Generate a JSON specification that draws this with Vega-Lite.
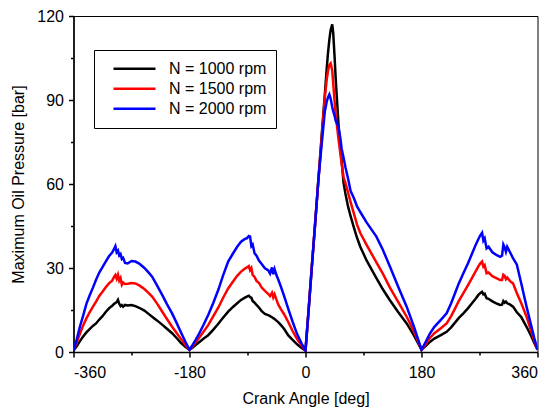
{
  "$schema": "https://vega.github.io/schema/vega-lite/v6.json",
  "width": 464,
  "height": 336,
  "autosize": "none",
  "padding": {"left": 73.5, "top": 16, "right": 12.5, "bottom": 57},
  "background": "white",
  "config": {
    "view": {"stroke": "black", "strokeWidth": 1},
    "font": "Liberation Sans",
    "axis": {
      "grid": false,
      "domainColor": "black",
      "domainWidth": 1.5,
      "tickColor": "black",
      "tickWidth": 1.5,
      "labelColor": "black",
      "labelFont": "Liberation Sans",
      "labelFontSize": 16,
      "titleFont": "Liberation Sans",
      "titleFontSize": 16,
      "titleFontWeight": "normal",
      "titleColor": "black"
    }
  },
  "data": {
    "values": [
      {"a":-360,"s":"1000","p":0.5},{"a":-360,"s":"1500","p":0.5},{"a":-360,"s":"2000","p":0.5},
      {"a":-355,"s":"1000","p":2},{"a":-355,"s":"1500","p":3.5},{"a":-355,"s":"2000","p":4.5},
      {"a":-350,"s":"1000","p":3.9},{"a":-350,"s":"1500","p":6.5},{"a":-350,"s":"2000","p":9.1},
      {"a":-345,"s":"1000","p":5.5},{"a":-345,"s":"1500","p":9.5},{"a":-345,"s":"2000","p":13},
      {"a":-340,"s":"1000","p":7},{"a":-340,"s":"1500","p":12},{"a":-340,"s":"2000","p":17.2},
      {"a":-335,"s":"1000","p":8.2},{"a":-335,"s":"1500","p":14.2},{"a":-335,"s":"2000","p":20.2},
      {"a":-330,"s":"1000","p":9.3},{"a":-330,"s":"1500","p":16.1},{"a":-330,"s":"2000","p":22.9},
      {"a":-325,"s":"1000","p":10.2},{"a":-325,"s":"1500","p":18},{"a":-325,"s":"2000","p":25.8},
      {"a":-320,"s":"1000","p":11.6},{"a":-320,"s":"1500","p":20},{"a":-320,"s":"2000","p":28.4},
      {"a":-315,"s":"1000","p":12.8},{"a":-315,"s":"1500","p":21.5},{"a":-315,"s":"2000","p":30.3},
      {"a":-310,"s":"1000","p":14.3},{"a":-310,"s":"1500","p":23.1},{"a":-310,"s":"2000","p":32.3},
      {"a":-305,"s":"1000","p":15.6},{"a":-305,"s":"1500","p":24.5},{"a":-305,"s":"2000","p":34.2},
      {"a":-300,"s":"1000","p":16.5},{"a":-300,"s":"1500","p":25.5},{"a":-300,"s":"2000","p":35.5},
      {"a":-297,"s":"1000","p":17.2},{"a":-297,"s":"1500","p":26.8},{"a":-297,"s":"2000","p":36.8},
      {"a":-295,"s":"1000","p":17.5},{"a":-295,"s":"1500","p":27.5},{"a":-295,"s":"2000","p":37.8},
      {"a":-293,"s":"1000","p":17.8},{"a":-293,"s":"1500","p":26.2},{"a":-293,"s":"2000","p":35.6},
      {"a":-291,"s":"1000","p":18.6},{"a":-291,"s":"1500","p":27.6},{"a":-291,"s":"2000","p":36.2},
      {"a":-289,"s":"1000","p":17.2},{"a":-289,"s":"1500","p":25.5},{"a":-289,"s":"2000","p":34.5},
      {"a":-287,"s":"1000","p":16.4},{"a":-287,"s":"1500","p":26.4},{"a":-287,"s":"2000","p":35},
      {"a":-285,"s":"1000","p":16.8},{"a":-285,"s":"1500","p":24},{"a":-285,"s":"2000","p":33.2},
      {"a":-283,"s":"1000","p":16.2},{"a":-283,"s":"1500","p":24.8},{"a":-283,"s":"2000","p":33.6},
      {"a":-280,"s":"1000","p":16.8},{"a":-280,"s":"1500","p":24.3},{"a":-280,"s":"2000","p":31.8},
      {"a":-276,"s":"1000","p":16.6},{"a":-276,"s":"1500","p":24.4},{"a":-276,"s":"2000","p":31.6},
      {"a":-270,"s":"1000","p":16.8},{"a":-270,"s":"1500","p":24.6},{"a":-270,"s":"2000","p":32.5},
      {"a":-264,"s":"1000","p":16.4},{"a":-264,"s":"1500","p":24.5},{"a":-264,"s":"2000","p":32.3},
      {"a":-258,"s":"1000","p":15.8},{"a":-258,"s":"1500","p":23.8},{"a":-258,"s":"2000","p":31.6},
      {"a":-250,"s":"1000","p":14.8},{"a":-250,"s":"1500","p":22.5},{"a":-250,"s":"2000","p":30},
      {"a":-244,"s":"1000","p":13.7},{"a":-244,"s":"1500","p":21.2},{"a":-244,"s":"2000","p":28.5},
      {"a":-238,"s":"1000","p":12.6},{"a":-238,"s":"1500","p":19.8},{"a":-238,"s":"2000","p":26.9},
      {"a":-230,"s":"1000","p":11.2},{"a":-230,"s":"1500","p":17.2},{"a":-230,"s":"2000","p":23.6},
      {"a":-222,"s":"1000","p":9.7},{"a":-222,"s":"1500","p":14.3},{"a":-222,"s":"2000","p":20.2},
      {"a":-215,"s":"1000","p":8.3},{"a":-215,"s":"1500","p":11.8},{"a":-215,"s":"2000","p":17.1},
      {"a":-207,"s":"1000","p":6.7},{"a":-207,"s":"1500","p":9},{"a":-207,"s":"2000","p":13.8},
      {"a":-200,"s":"1000","p":5},{"a":-200,"s":"1500","p":6.8},{"a":-200,"s":"2000","p":10.4},
      {"a":-193,"s":"1000","p":3.2},{"a":-193,"s":"1500","p":4.6},{"a":-193,"s":"2000","p":6.9},
      {"a":-186,"s":"1000","p":1.8},{"a":-186,"s":"1500","p":2.4},{"a":-186,"s":"2000","p":3.5},
      {"a":-180,"s":"1000","p":0.8},{"a":-180,"s":"1500","p":0.8},{"a":-180,"s":"2000","p":0.8},
      {"a":-175,"s":"1000","p":1.6},{"a":-175,"s":"1500","p":2.1},{"a":-175,"s":"2000","p":2.6},
      {"a":-170,"s":"1000","p":2.6},{"a":-170,"s":"1500","p":3.6},{"a":-170,"s":"2000","p":4.5},
      {"a":-165,"s":"1000","p":3.5},{"a":-165,"s":"1500","p":5.1},{"a":-165,"s":"2000","p":6.6},
      {"a":-158,"s":"1000","p":4.8},{"a":-158,"s":"1500","p":7.3},{"a":-158,"s":"2000","p":9.8},
      {"a":-151,"s":"1000","p":6},{"a":-151,"s":"1500","p":9.6},{"a":-151,"s":"2000","p":13.2},
      {"a":-143,"s":"1000","p":8},{"a":-143,"s":"1500","p":12.8},{"a":-143,"s":"2000","p":17.6},
      {"a":-135,"s":"1000","p":10.2},{"a":-135,"s":"1500","p":16},{"a":-135,"s":"2000","p":22.4},
      {"a":-128,"s":"1000","p":12.2},{"a":-128,"s":"1500","p":19.3},{"a":-128,"s":"2000","p":27.3},
      {"a":-120,"s":"1000","p":14.4},{"a":-120,"s":"1500","p":22.7},{"a":-120,"s":"2000","p":32.3},
      {"a":-113,"s":"1000","p":16},{"a":-113,"s":"1500","p":25},{"a":-113,"s":"2000","p":35},
      {"a":-106,"s":"1000","p":17.4},{"a":-106,"s":"1500","p":27.2},{"a":-106,"s":"2000","p":37.6},
      {"a":-100,"s":"1000","p":18.6},{"a":-100,"s":"1500","p":28.7},{"a":-100,"s":"2000","p":39.4},
      {"a":-94,"s":"1000","p":19.4},{"a":-94,"s":"1500","p":29.8},{"a":-94,"s":"2000","p":40.4},
      {"a":-91,"s":"1000","p":19.8},{"a":-91,"s":"1500","p":30.2},{"a":-91,"s":"2000","p":40.6},
      {"a":-88,"s":"1000","p":20.1},{"a":-88,"s":"1500","p":30.7},{"a":-88,"s":"2000","p":41.4},
      {"a":-86,"s":"1000","p":19.6},{"a":-86,"s":"1500","p":29.2},{"a":-86,"s":"2000","p":41.2},
      {"a":-84,"s":"1000","p":19.4},{"a":-84,"s":"1500","p":30},{"a":-84,"s":"2000","p":37.8},
      {"a":-82,"s":"1000","p":18.2},{"a":-82,"s":"1500","p":27.5},{"a":-82,"s":"2000","p":38.4},
      {"a":-79,"s":"1000","p":17.6},{"a":-79,"s":"1500","p":26.8},{"a":-79,"s":"2000","p":35.2},
      {"a":-76,"s":"1000","p":16.8},{"a":-76,"s":"1500","p":25.4},{"a":-76,"s":"2000","p":34.4},
      {"a":-72,"s":"1000","p":15.8},{"a":-72,"s":"1500","p":24.6},{"a":-72,"s":"2000","p":32.6},
      {"a":-68,"s":"1000","p":14.6},{"a":-68,"s":"1500","p":23},{"a":-68,"s":"2000","p":31.4},
      {"a":-63,"s":"1000","p":13.6},{"a":-63,"s":"1500","p":21.8},{"a":-63,"s":"2000","p":29.9},
      {"a":-58,"s":"1000","p":13.2},{"a":-58,"s":"1500","p":20.8},{"a":-58,"s":"2000","p":29.2},
      {"a":-55,"s":"1000","p":12.8},{"a":-55,"s":"1500","p":20},{"a":-55,"s":"2000","p":28},
      {"a":-52,"s":"1000","p":12.4},{"a":-52,"s":"1500","p":21.2},{"a":-52,"s":"2000","p":30.2},
      {"a":-50,"s":"1000","p":12.1},{"a":-50,"s":"1500","p":19.5},{"a":-50,"s":"2000","p":27.8},
      {"a":-48,"s":"1000","p":11.8},{"a":-48,"s":"1500","p":20.6},{"a":-48,"s":"2000","p":29.6},
      {"a":-45,"s":"1000","p":11.2},{"a":-45,"s":"1500","p":18.6},{"a":-45,"s":"2000","p":27.4},
      {"a":-42,"s":"1000","p":10.6},{"a":-42,"s":"1500","p":16.8},{"a":-42,"s":"2000","p":25.7},
      {"a":-38,"s":"1000","p":9.6},{"a":-38,"s":"1500","p":15.2},{"a":-38,"s":"2000","p":23.2},
      {"a":-33,"s":"1000","p":8.2},{"a":-33,"s":"1500","p":13.4},{"a":-33,"s":"2000","p":19.9},
      {"a":-27,"s":"1000","p":6},{"a":-27,"s":"1500","p":10.8},{"a":-27,"s":"2000","p":15.6},
      {"a":-20,"s":"1000","p":4.3},{"a":-20,"s":"1500","p":7.5},{"a":-20,"s":"2000","p":10.8},
      {"a":-13,"s":"1000","p":2.7},{"a":-13,"s":"1500","p":4.6},{"a":-13,"s":"2000","p":6.4},
      {"a":-6,"s":"1000","p":1.4},{"a":-6,"s":"1500","p":2.2},{"a":-6,"s":"2000","p":3},
      {"a":0,"s":"1000","p":0.5},{"a":0,"s":"1500","p":0.5},{"a":0,"s":"2000","p":0.5},
      {"a":5,"s":"1000","p":15.5},{"a":5,"s":"1500","p":15.5},{"a":5,"s":"2000","p":15.5},
      {"a":10,"s":"1000","p":31},{"a":10,"s":"1500","p":31},{"a":10,"s":"2000","p":31},
      {"a":15,"s":"1000","p":46},{"a":15,"s":"1500","p":46},{"a":15,"s":"2000","p":46},
      {"a":20,"s":"1000","p":61.5},{"a":20,"s":"1500","p":61.5},{"a":20,"s":"2000","p":61.5},
      {"a":25,"s":"1000","p":77},{"a":25,"s":"1500","p":76},{"a":25,"s":"2000","p":74},
      {"a":30,"s":"1000","p":92},{"a":30,"s":"1500","p":91},{"a":30,"s":"2000","p":86},
      {"a":33,"s":"1000","p":101.5},{"a":33,"s":"1500","p":97.5},{"a":33,"s":"2000","p":89.5},
      {"a":35,"s":"1000","p":107},{"a":35,"s":"1500","p":100.5},{"a":35,"s":"2000","p":91},
      {"a":37,"s":"1000","p":111.5},{"a":37,"s":"1500","p":102.5},{"a":37,"s":"2000","p":92},
      {"a":39,"s":"1000","p":115},{"a":39,"s":"1500","p":103.1},{"a":39,"s":"2000","p":90.5},
      {"a":41.5,"s":"1000","p":117},{"a":41.5,"s":"1500","p":100.5},{"a":41.5,"s":"2000","p":87.5},
      {"a":43,"s":"1000","p":114},{"a":43,"s":"1500","p":96},{"a":43,"s":"2000","p":86},
      {"a":45,"s":"1000","p":106},{"a":45,"s":"1500","p":90},{"a":45,"s":"2000","p":84.5},
      {"a":47,"s":"1000","p":97},{"a":47,"s":"1500","p":84.5},{"a":47,"s":"2000","p":82.5},
      {"a":49,"s":"1000","p":89.5},{"a":49,"s":"1500","p":80.5},{"a":49,"s":"2000","p":81.5},
      {"a":51,"s":"1000","p":82},{"a":51,"s":"1500","p":76.5},{"a":51,"s":"2000","p":80.5},
      {"a":54,"s":"1000","p":73},{"a":54,"s":"1500","p":71},{"a":54,"s":"2000","p":76.5},
      {"a":56,"s":"1000","p":68.5},{"a":56,"s":"1500","p":67.5},{"a":56,"s":"2000","p":72.7},
      {"a":59,"s":"1000","p":60.5},{"a":59,"s":"1500","p":62.5},{"a":59,"s":"2000","p":69.5},
      {"a":62,"s":"1000","p":56.5},{"a":62,"s":"1500","p":60.3},{"a":62,"s":"2000","p":66},
      {"a":66,"s":"1000","p":52},{"a":66,"s":"1500","p":57},{"a":66,"s":"2000","p":62},
      {"a":70,"s":"1000","p":48.5},{"a":70,"s":"1500","p":53.5},{"a":70,"s":"2000","p":57.5},
      {"a":75,"s":"1000","p":44.5},{"a":75,"s":"1500","p":49.5},{"a":75,"s":"2000","p":55},
      {"a":80,"s":"1000","p":40.8},{"a":80,"s":"1500","p":45.5},{"a":80,"s":"2000","p":52},
      {"a":85,"s":"1000","p":37.6},{"a":85,"s":"1500","p":42.5},{"a":85,"s":"2000","p":50},
      {"a":95,"s":"1000","p":32.6},{"a":95,"s":"1500","p":38.2},{"a":95,"s":"2000","p":46.2},
      {"a":110,"s":"1000","p":26.4},{"a":110,"s":"1500","p":32},{"a":110,"s":"2000","p":41.2},
      {"a":120,"s":"1000","p":22.4},{"a":120,"s":"1500","p":28},{"a":120,"s":"2000","p":36.5},
      {"a":131,"s":"1000","p":18.5},{"a":131,"s":"1500","p":23},{"a":131,"s":"2000","p":30.5},
      {"a":144,"s":"1000","p":14.2},{"a":144,"s":"1500","p":17.8},{"a":144,"s":"2000","p":23.2},
      {"a":157,"s":"1000","p":10.2},{"a":157,"s":"1500","p":12.6},{"a":157,"s":"2000","p":16.2},
      {"a":168,"s":"1000","p":6},{"a":168,"s":"1500","p":7.5},{"a":168,"s":"2000","p":9.2},
      {"a":174,"s":"1000","p":3.4},{"a":174,"s":"1500","p":4.2},{"a":174,"s":"2000","p":5},
      {"a":180,"s":"1000","p":0.8},{"a":180,"s":"1500","p":0.8},{"a":180,"s":"2000","p":0.8},
      {"a":186,"s":"1000","p":2},{"a":186,"s":"1500","p":2.6},{"a":186,"s":"2000","p":3.4},
      {"a":193,"s":"1000","p":3.6},{"a":193,"s":"1500","p":5},{"a":193,"s":"2000","p":6.6},
      {"a":200,"s":"1000","p":4.8},{"a":200,"s":"1500","p":6.7},{"a":200,"s":"2000","p":9},
      {"a":210,"s":"1000","p":6},{"a":210,"s":"1500","p":8.5},{"a":210,"s":"2000","p":11.5},
      {"a":219,"s":"1000","p":7.2},{"a":219,"s":"1500","p":10.2},{"a":219,"s":"2000","p":13.8},
      {"a":226,"s":"1000","p":8.8},{"a":226,"s":"1500","p":12.8},{"a":226,"s":"2000","p":17.4},
      {"a":232,"s":"1000","p":10.5},{"a":232,"s":"1500","p":15.5},{"a":232,"s":"2000","p":21},
      {"a":238,"s":"1000","p":12.2},{"a":238,"s":"1500","p":18.3},{"a":238,"s":"2000","p":24.6},
      {"a":245,"s":"1000","p":13.8},{"a":245,"s":"1500","p":21},{"a":245,"s":"2000","p":28.1},
      {"a":252,"s":"1000","p":15.6},{"a":252,"s":"1500","p":23.8},{"a":252,"s":"2000","p":31.6},
      {"a":258,"s":"1000","p":17.3},{"a":258,"s":"1500","p":26.3},{"a":258,"s":"2000","p":34.9},
      {"a":264,"s":"1000","p":19},{"a":264,"s":"1500","p":28.8},{"a":264,"s":"2000","p":38.2},
      {"a":268,"s":"1000","p":20.3},{"a":268,"s":"1500","p":30.5},{"a":268,"s":"2000","p":40.2},
      {"a":271,"s":"1000","p":21},{"a":271,"s":"1500","p":31.6},{"a":271,"s":"2000","p":41.6},
      {"a":274,"s":"1000","p":21.5},{"a":274,"s":"1500","p":32.3},{"a":274,"s":"2000","p":42.6},
      {"a":276,"s":"1000","p":20.6},{"a":276,"s":"1500","p":30.5},{"a":276,"s":"2000","p":39.8},
      {"a":278,"s":"1000","p":20.8},{"a":278,"s":"1500","p":31},{"a":278,"s":"2000","p":40.6},
      {"a":281,"s":"1000","p":19.2},{"a":281,"s":"1500","p":28.1},{"a":281,"s":"2000","p":37},
      {"a":284,"s":"1000","p":19},{"a":284,"s":"1500","p":28.4},{"a":284,"s":"2000","p":37.6},
      {"a":290,"s":"1000","p":18.1},{"a":290,"s":"1500","p":27.1},{"a":290,"s":"2000","p":35.6},
      {"a":296,"s":"1000","p":17.4},{"a":296,"s":"1500","p":26.4},{"a":296,"s":"2000","p":34.7},
      {"a":302,"s":"1000","p":16.8},{"a":302,"s":"1500","p":25.7},{"a":302,"s":"2000","p":34},
      {"a":305,"s":"1000","p":16.9},{"a":305,"s":"1500","p":25.7},{"a":305,"s":"2000","p":34.4},
      {"a":307,"s":"1000","p":18.2},{"a":307,"s":"1500","p":27.6},{"a":307,"s":"2000","p":38.4},
      {"a":309,"s":"1000","p":17.6},{"a":309,"s":"1500","p":27.2},{"a":309,"s":"2000","p":37.4},
      {"a":311,"s":"1000","p":18},{"a":311,"s":"1500","p":26},{"a":311,"s":"2000","p":35.8},
      {"a":313,"s":"1000","p":17.4},{"a":313,"s":"1500","p":26.6},{"a":313,"s":"2000","p":37.6},
      {"a":317,"s":"1000","p":17},{"a":317,"s":"1500","p":25.4},{"a":317,"s":"2000","p":35.8},
      {"a":322,"s":"1000","p":16.2},{"a":322,"s":"1500","p":24.5},{"a":322,"s":"2000","p":33.5},
      {"a":328,"s":"1000","p":14.2},{"a":328,"s":"1500","p":21},{"a":328,"s":"2000","p":31.2},
      {"a":335,"s":"1000","p":12.4},{"a":335,"s":"1500","p":17.3},{"a":335,"s":"2000","p":24.3},
      {"a":343,"s":"1000","p":9},{"a":343,"s":"1500","p":12.6},{"a":343,"s":"2000","p":16.2},
      {"a":350,"s":"1000","p":5.8},{"a":350,"s":"1500","p":7.6},{"a":350,"s":"2000","p":9.6},
      {"a":355,"s":"1000","p":3.2},{"a":355,"s":"1500","p":4.1},{"a":355,"s":"2000","p":5},
      {"a":360,"s":"1000","p":0.8},{"a":360,"s":"1500","p":0.8},{"a":360,"s":"2000","p":0.8}
    ]
  },
  "mark": {"type": "line", "strokeWidth": 2.5, "clip": true},
  "encoding": {
    "x": {
      "field": "a",
      "type": "quantitative",
      "scale": {"domain": [-360, 360], "nice": false, "zero": false},
      "axis": {
        "title": "Crank Angle [deg]",
        "values": [-360, -270, -180, -90, 0, 90, 180, 270, 360],
        "labelExpr": "datum.value % 180 === 0 ? '' + datum.value : ''",
        "tickSize": {"condition": {"test": "datum.value % 180 === 0", "value": 5}, "value": 3},
        "labelPadding": 7,
        "titlePadding": 10
      }
    },
    "y": {
      "field": "p",
      "type": "quantitative",
      "scale": {"domain": [0, 120], "nice": false},
      "axis": {
        "title": "Maximum Oil Pressure [bar]",
        "values": [0, 15, 30, 45, 60, 75, 90, 105, 120],
        "labelExpr": "datum.value % 30 === 0 ? '' + datum.value : ''",
        "tickSize": {"condition": {"test": "datum.value % 30 === 0", "value": 5}, "value": 3},
        "labelPadding": 5,
        "titlePadding": 10
      }
    },
    "color": {
      "field": "s",
      "type": "nominal",
      "scale": {"domain": ["1000", "1500", "2000"], "range": ["#000000", "#ff0000", "#0000ff"]},
      "legend": {
        "orient": "none",
        "legendX": 20.5,
        "legendY": 34,
        "title": null,
        "strokeColor": "black",
        "padding": 9,
        "symbolType": "stroke",
        "symbolSize": 1764,
        "symbolStrokeWidth": 2.5,
        "clipHeight": 19.5,
        "rowPadding": 0,
        "symbolOffset": 9,
        "labelOffset": 12,
        "labelFont": "Liberation Sans",
        "labelFontSize": 16,
        "labelColor": "black",
        "labelExpr": "'N = ' + datum.label + ' rpm\u00a0\u00a0\u00a0'"
      }
    }
  }
}
